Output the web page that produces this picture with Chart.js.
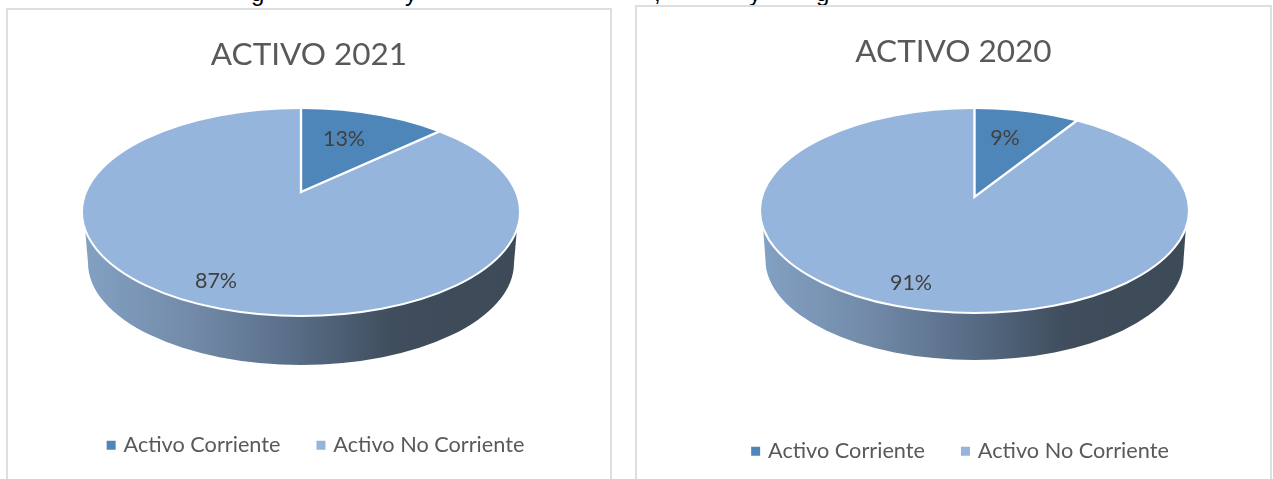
<!DOCTYPE html>
<html>
<head>
<meta charset="utf-8">
<script src="https://cdn.jsdelivr.net/npm/chart.js@4/dist/chart.umd.min.js"></script>
<style>
html,body{margin:0;padding:0;background:#fff;width:1273px;height:479px;overflow:hidden}
.frame{position:absolute;box-sizing:border-box;border:2px solid #dedede;background:#fff}
.frame canvas{position:absolute;left:0;top:0}
.frag{position:absolute;font:24px "Liberation Sans",sans-serif;color:#000;line-height:24px}
</style>
</head>
<body>
<span class="frag" style="left:251px;top:-19px">g</span>
<span class="frag" style="left:405px;top:-19px">y</span>
<span class="frag" style="left:654px;top:-19px">,</span>
<span class="frag" style="left:749px;top:-19px">y</span>
<span class="frag" style="left:816px;top:-19px">g</span>
<div class="frame" style="left:6px;top:8px;width:606px;height:490px"><canvas id="c1"></canvas></div>
<div class="frame" style="left:635px;top:5px;width:637px;height:490px"><canvas id="c2"></canvas></div>
<script>
const categories = ['Activo Corriente', 'Activo No Corriente'];
const values2021 = [13, 87];
const values2020 = [9, 91];
const colors = ['#4f86ba', '#95b5dd'];

const pie3d = {
  id: 'pie3d',
  beforeDatasetsDraw(chart, args, o) {
    const ctx = chart.ctx, toX = chart.canvas.parentNode.offsetLeft + 2, toY = chart.canvas.parentNode.offsetTop + 2;
    const cx = o.cx - toX, cy = o.cy - toY;
    // side wall, slightly tapered towards the bottom
    ctx.save();
    ctx.beginPath();
    ctx.moveTo(cx - o.rx + 3, cy + 16);
    ctx.lineTo(cx - o.wallRx, o.wallCy - toY);
    ctx.ellipse(cx, o.wallCy - toY, o.wallRx, o.wallRy, 0, Math.PI, 0, true);
    ctx.lineTo(cx + o.rx - 3, cy + 16);
    ctx.closePath();
    const g = ctx.createLinearGradient(cx - o.wallRx, 0, cx + o.wallRx, 0);
    g.addColorStop(0, '#82a0c2');
    g.addColorStop(0.25, '#728aa8');
    g.addColorStop(0.5, '#566b84');
    g.addColorStop(0.72, '#3f4d5c');
    g.addColorStop(1, '#3d4a57');
    ctx.fillStyle = g;
    ctx.fill();
    // top disc
    ctx.beginPath();
    ctx.ellipse(cx, cy, o.rx, o.ry, 0, 0, Math.PI * 2);
    ctx.fillStyle = colors[1];
    ctx.fill();
    ctx.restore();
    // map each slice from the library's circle onto the tilted disc
    chart.getDatasetMeta(0).data.forEach((el, i) => {
      if (el._wrapped) return;
      el._wrapped = true;
      const draw = el.draw;
      el.draw = function (c) {
        const R = el.outerRadius, x0 = el.x, y0 = el.y;
        c.save();
        c.beginPath();
        c.ellipse(cx, cy, o.rx, o.ry, 0, 0, Math.PI * 2);
        c.clip();
        if (i === 0) {
          const th = el.endAngle + Math.PI / 2;
          const e = project(Math.sin(th), Math.cos(th), o.k);
          const s = Math.sin(th), co = Math.cos(th);
          const Ox = cx, Oy = cy - o.k * o.ry;
          const Vy = -(1 - o.k) * o.ry;
          const Ex = e.x * o.rx, Ey = -e.y * o.ry + o.k * o.ry;
          const Ux = Ex / s, Uy = (Ey - co * Vy) / s;
          const a = Ux / R, b = Uy / R, cc = 0, d = -Vy / R;
          c.transform(a, b, cc, d, Ox - a * x0 - cc * y0, Oy - b * x0 - d * y0);
        } else {
          const a = o.rx / R, d = o.ry / R;
          c.transform(a, 0, 0, d, cx - a * x0, cy - d * y0);
        }
        draw.call(el, c);
        c.restore();
      };
    });
  },
  afterDatasetsDraw(chart, args, o) {
    const ctx = chart.ctx, toX = chart.canvas.parentNode.offsetLeft + 2, toY = chart.canvas.parentNode.offsetTop + 2;
    const cx = o.cx - toX, cy = o.cy - toY;
    const el = chart.getDatasetMeta(0).data[0];
    const th = el.endAngle + Math.PI / 2;
    const e = project(Math.sin(th), Math.cos(th), o.k);
    ctx.save();
    ctx.strokeStyle = '#ffffff';
    ctx.lineWidth = 2;
    ctx.beginPath();
    ctx.ellipse(cx, cy, o.rx, o.ry, 0, 0, Math.PI * 2);
    ctx.stroke();
    ctx.lineWidth = 2.4;
    ctx.lineJoin = 'miter';
    ctx.beginPath();
    ctx.moveTo(cx, cy - o.ry);
    ctx.lineTo(cx, cy - o.k * o.ry);
    ctx.lineTo(cx + e.x * o.rx, cy - e.y * o.ry);
    ctx.stroke();
    ctx.fillStyle = '#404040';
    ctx.font = o.labelFont;
    ctx.textAlign = 'center';
    ctx.textBaseline = 'middle';
    chart.data.datasets[0].data.forEach((v, i) => {
      ctx.fillText(v + '%', o.labels[i][0] - toX, o.labels[i][1] - toY);
    });
    ctx.restore();
  },
  afterLayout(chart, args, o) {
    const l = chart.legend;
    l.left += o.legendShift; l.right += o.legendShift;
  }
};
function project(x, y, k) {
  const q = Math.sqrt(1 - k * k), den = 1 + k * y;
  return { x: x * q / den, y: (y + k) / den };
}

function make(id, title, values, geo, titleTop, legendBottom) {
  return new Chart(document.getElementById(id), {
    type: 'pie',
    data: { labels: categories, datasets: [{ data: values, backgroundColor: colors, borderWidth: 0, clip: false }] },
    plugins: [pie3d],
    options: {
      responsive: false, animation: false,
      layout: { padding: { bottom: legendBottom } },
      plugins: {
        tooltip: { enabled: false },
        title: { display: true, text: title, color: '#595959', font: { family: 'Lato', size: 31.5, weight: 'normal' }, padding: { top: titleTop, bottom: 10 } },
        legend: {
          position: 'bottom',
          labels: { usePointStyle: true, pointStyle: 'rect', boxWidth: 3, boxHeight: 9, color: '#595959', padding: 39, font: { family: 'Lato', size: 21.7 } }
        },
        pie3d: geo
      }
    }
  });
}
function size(id, w, h) { const c = document.getElementById(id); c.width = w; c.height = h; c.style.width = w + 'px'; c.style.height = h + 'px'; }
size('c1', 602, 486);
size('c2', 633, 486);
make('c1', 'ACTIVO 2021', values2021,
  { cx: 301, cy: 212, rx: 219, ry: 104, k: 0.192, wallCy: 263, wallRx: 213, wallRy: 102, labels: [[344, 139], [216, 281]], labelFont: '21.5px Lato', legendShift: 8 }, 26, 30);
make('c2', 'ACTIVO 2020', values2020,
  { cx: 974.5, cy: 210.5, rx: 214.5, ry: 102.5, k: 0.132, wallCy: 260, wallRx: 209, wallRy: 100, labels: [[1005, 138], [911, 283]], labelFont: '21.5px Lato', legendShift: 8 }, 26, 21);
</script>
</body>
</html>
